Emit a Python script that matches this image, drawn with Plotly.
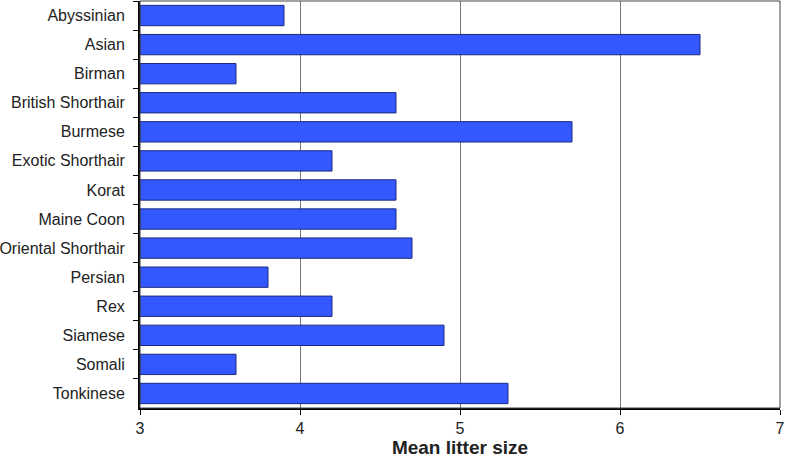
import plotly.graph_objects as go

breeds = ["Abyssinian", "Asian", "Birman", "British Shorthair", "Burmese",
          "Exotic Shorthair", "Korat", "Maine Coon", "Oriental Shorthair",
          "Persian", "Rex", "Siamese", "Somali", "Tonkinese"]
litter = [3.9, 6.5, 3.6, 4.6, 5.7, 4.2, 4.6, 4.6, 4.7, 3.8, 4.2, 4.9, 3.6, 5.3]

baseline = 3

fig = go.Figure()

# bars start at the axis minimum, so draw the length above the baseline
fig.add_trace(go.Bar(
    x=[v - baseline for v in litter],
    y=breeds,
    orientation="h",
    base=baseline,
    marker=dict(color="#3358FF", line=dict(color="#1a2a80", width=1)),
))

# thin frame around the plot area
fig.add_shape(type="rect", xref="paper", yref="paper", x0=0, x1=1, y0=0, y1=1,
              line=dict(color="#444444", width=1), layer="above")

fig.update_layout(
    width=785, height=458,
    margin=dict(l=140, r=5, t=1, b=50, autoexpand=False),
    plot_bgcolor="white",
    paper_bgcolor="white",
    bargap=0.3,
    showlegend=False,
    font=dict(family="Liberation Sans, Arial, sans-serif", size=16, color="#222222"),
    xaxis=dict(
        range=[3, 7],
        tickvals=[3, 4, 5, 6, 7],
        showgrid=True, gridcolor="#777777", gridwidth=1,
        showline=True, linecolor="black", linewidth=2,
        ticks="outside", ticklen=5, tickcolor="black",
        ticklabeloverflow="allow",
        zeroline=False,
        title=dict(text="<b>Mean litter size</b>", font=dict(size=19, color="#222222"), standoff=9),
    ),
    yaxis=dict(
        autorange="reversed",
        showline=True, linecolor="black", linewidth=2,
        ticks="outside", ticklen=5, tickcolor="black",
        tickson="boundaries",
        ticklabelstandoff=10,
        showgrid=False,
    ),
)

fig.write_html("out.html", config={"displayModeBar": False},
               post_script="document.body.style.margin='0';")
